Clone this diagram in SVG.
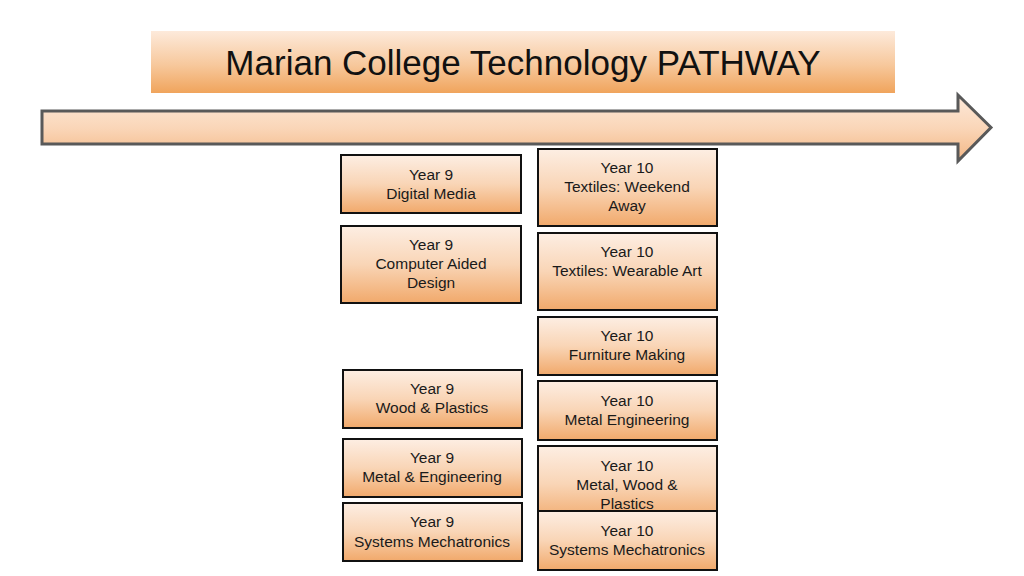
<svg xmlns="http://www.w3.org/2000/svg" width="1024" height="576" viewBox="0 0 1024 576">
  <defs>
    <linearGradient id="gTitle" x1="0" y1="0" x2="0" y2="1">
      <stop offset="0" stop-color="#fdeadb"/>
      <stop offset="0.55" stop-color="#f7c89c"/>
      <stop offset="1" stop-color="#f0a45c"/>
    </linearGradient>
    <linearGradient id="gArrow" x1="0" y1="0" x2="0" y2="1">
      <stop offset="0" stop-color="#fde9da"/>
      <stop offset="0.5" stop-color="#fad6b8"/>
      <stop offset="1" stop-color="#f3b785"/>
    </linearGradient>
    <linearGradient id="gBox" x1="0" y1="0" x2="0" y2="1">
      <stop offset="0" stop-color="#fdeee3"/>
      <stop offset="0.5" stop-color="#f9d5b6"/>
      <stop offset="1" stop-color="#f1a96b"/>
    </linearGradient>
  </defs>
  <style>
    .box { fill: url(#gBox); stroke: #111111; stroke-width: 2; }
    .lbl { font-family: "Liberation Sans", Arial, sans-serif; font-size: 15.5px; fill: #1a1a1a; text-anchor: middle; }
    .title { font-family: "Liberation Sans", Arial, sans-serif; font-size: 35px; fill: #111111; text-anchor: middle; }
  </style>
  <rect width="1024" height="576" fill="#ffffff"/>

  <g id="title">
    <rect x="151" y="31" width="744" height="62" fill="url(#gTitle)"/>
    <text class="title" x="523" y="75">Marian College Technology PATHWAY</text>
  </g>

  <g id="connectors">
    <polygon points="42,111 958,111 958,95 991,127.5 958,161 958,144 42,144" fill="url(#gArrow)" stroke="#595959" stroke-width="3" stroke-linejoin="miter"/>
  </g>

  <g id="y9-digital-media">
    <rect class="box" x="341" y="155" width="180" height="58"/>
    <text class="lbl" x="431" y="180">Year 9</text>
    <text class="lbl" x="431" y="199">Digital Media</text>
  </g>
  <g id="y9-cad">
    <rect class="box" x="341" y="226" width="180" height="77"/>
    <text class="lbl" x="431" y="250">Year 9</text>
    <text class="lbl" x="431" y="269">Computer Aided</text>
    <text class="lbl" x="431" y="288">Design</text>
  </g>
  <g id="y9-wood-plastics">
    <rect class="box" x="343" y="370" width="179" height="58"/>
    <text class="lbl" x="432" y="394">Year 9</text>
    <text class="lbl" x="432" y="413">Wood &amp; Plastics</text>
  </g>
  <g id="y9-metal-engineering">
    <rect class="box" x="343" y="439" width="179" height="58"/>
    <text class="lbl" x="432" y="463">Year 9</text>
    <text class="lbl" x="432" y="482">Metal &amp; Engineering</text>
  </g>
  <g id="y9-systems-mechatronics">
    <rect class="box" x="343" y="503" width="179" height="58"/>
    <text class="lbl" x="432" y="527">Year 9</text>
    <text class="lbl" x="432" y="547">Systems Mechatronics</text>
  </g>

  <g id="y10-textiles-weekend">
    <rect class="box" x="538" y="149" width="179" height="77"/>
    <text class="lbl" x="627" y="173">Year 10</text>
    <text class="lbl" x="627" y="192">Textiles: Weekend</text>
    <text class="lbl" x="627" y="211">Away</text>
  </g>
  <g id="y10-textiles-wearable">
    <rect class="box" x="538" y="233" width="179" height="77"/>
    <text class="lbl" x="627" y="257">Year 10</text>
    <text class="lbl" x="627" y="276">Textiles: Wearable Art</text>
  </g>
  <g id="y10-furniture">
    <rect class="box" x="538" y="317" width="179" height="58"/>
    <text class="lbl" x="627" y="341">Year 10</text>
    <text class="lbl" x="627" y="360">Furniture Making</text>
  </g>
  <g id="y10-metal-engineering">
    <rect class="box" x="538" y="381" width="179" height="59"/>
    <text class="lbl" x="627" y="406">Year 10</text>
    <text class="lbl" x="627" y="425">Metal Engineering</text>
  </g>
  <g id="y10-metal-wood-plastics">
    <rect class="box" x="538" y="446" width="179" height="76"/>
    <text class="lbl" x="627" y="471">Year 10</text>
    <text class="lbl" x="627" y="490">Metal, Wood &amp;</text>
    <text class="lbl" x="627" y="509">Plastics</text>
  </g>
  <g id="y10-systems-mechatronics">
    <rect class="box" x="538" y="511" width="179" height="59"/>
    <text class="lbl" x="627" y="536">Year 10</text>
    <text class="lbl" x="627" y="555">Systems Mechatronics</text>
  </g>
</svg>
